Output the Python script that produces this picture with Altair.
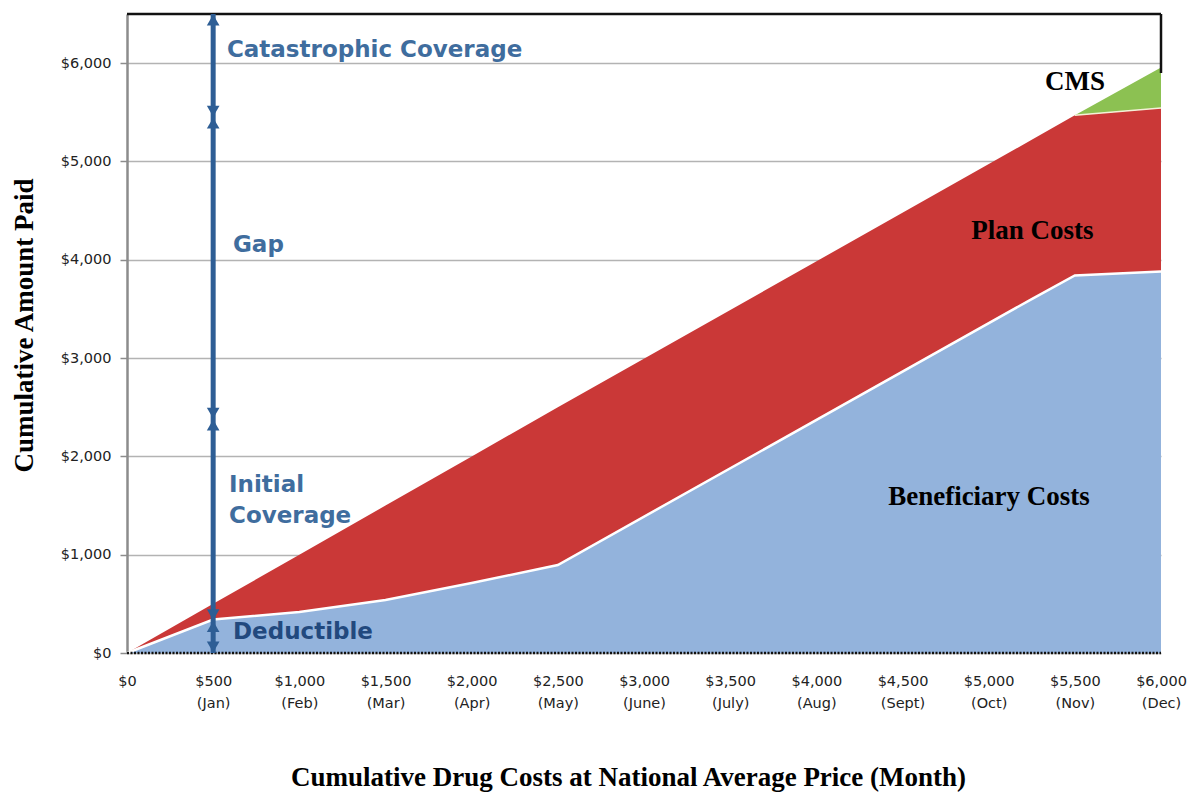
import altair as alt
import pandas as pd

# Cumulative drug spend (x) and the cumulative amount paid by each payer
drug_cost = [0, 500, 1000, 1500, 2000, 2500, 5250, 5500, 6000]
beneficiary_paid = [0, 340, 417, 539, 712, 895, 3600, 3840, 3880]
plan_paid = [0, 160, 583, 961, 1288, 1605, 1620, 1630, 1665]
cms_paid = [0, 0, 0, 0, 0, 0, 0, 0, 410]

series_names = ["Beneficiary Costs", "Plan Costs", "CMS"]
series_colors = ["#93B3DC", "#CA3837", "#8CC152"]

# x-axis ticks: cumulative cost with the month reached
tick_costs = [0, 500, 1000, 1500, 2000, 2500, 3000, 3500, 4000, 4500, 5000, 5500, 6000]
tick_cost_labels = ["$0", "$500", "$1,000", "$1,500", "$2,000", "$2,500", "$3,000",
                    "$3,500", "$4,000", "$4,500", "$5,000", "$5,500", "$6,000"]
tick_month_labels = ["", "(Jan)", "(Feb)", "(Mar)", "(Apr)", "(May)", "(June)",
                     "(July)", "(Aug)", "(Sept)", "(Oct)", "(Nov)", "(Dec)"]
y_ticks = [0, 1000, 2000, 3000, 4000, 5000, 6000]

# Coverage phases marked along the arrow at $500 of drug spend
arrow_cost = 500
phase_bounds = [0, 330, 2380, 5450, 6500]
phase_labels = ["Catastrophic Coverage", "Gap", "Initial", "Coverage", "Deductible"]
phase_label_x = [580, 615, 592, 592, 615]
phase_label_y = [6062, 4079, 1638, 1322, 142]
phase_label_colors = ["#3F6D9E", "#3F6D9E", "#3F6D9E", "#3F6D9E", "#22497E"]

# Payer labels inside the stacked areas
payer_labels = ["CMS", "Plan Costs", "Beneficiary Costs"]
payer_label_x = [5501, 5253, 5002]
payer_label_y = [5727, 4211, 1505]

X_MAX = 6000
Y_MAX = 6500

rows = []
for i, c in enumerate(drug_cost):
    for k, (name, vals) in enumerate(zip(series_names, [beneficiary_paid, plan_paid, cms_paid])):
        rows.append({"cost": c, "payer": name, "paid": vals[i], "order": k})
stack_df = pd.DataFrame(rows)

boundary_df = pd.DataFrame({"cost": drug_cost, "paid": beneficiary_paid})
red_top = [b + p for b, p in zip(beneficiary_paid, plan_paid)]
cms_edge_df = pd.DataFrame({"cost": drug_cost[-2:], "paid": red_top[-2:]})

x_scale = alt.Scale(domain=[0, X_MAX], nice=False, zero=True)
y_scale = alt.Scale(domain=[0, Y_MAX], nice=False)

label_pairs = ",".join(
    "['%s','%s']" % (a, b) for a, b in zip(tick_cost_labels, tick_month_labels)
)
x_label_expr = "[%s][round(datum.value / 500)]" % label_pairs

tick_font = "DejaVu Sans"

x_axis = alt.Axis(
    values=tick_costs,
    labelExpr=x_label_expr,
    labelFont=tick_font,
    labelFontSize=14.5,
    labelColor="#222222",
    labelLineHeight=22,
    labelBaseline="top",
    labelPadding=21,
    labelOverlap=False,
    labelFlush=False,
    labelBound=False,
    ticks=False,
    domain=False,
    grid=False,
    title="Cumulative Drug Costs at National Average Price (Month)",
    titleFont="Liberation Serif",
    titleFontSize=27,
    titleFontWeight="bold",
    titleColor="#000000",
    titleX=501,
    titleY=132,
    titleBaseline="alphabetic",
)

y_axis = alt.Axis(
    values=y_ticks,
    format="$,.0f",
    labelFont=tick_font,
    labelFontSize=14.5,
    labelColor="#222222",
    labelPadding=9,
    tickSize=7,
    tickColor="#8C8C8C",
    tickWidth=1.5,
    domainColor="#8C8C8C",
    domainWidth=2.5,
    grid=True,
    gridColor="#B3B3B3",
    gridWidth=1.6,
    title="Cumulative Amount Paid",
    titleFont="Liberation Serif",
    titleFontSize=27,
    titleFontWeight="bold",
    titleColor="#000000",
    titleAngle=-90,
    titleX=-103,
    titleY=311,
    titleAlign="center",
    titleBaseline="middle",
)


def xq(field="cost:Q"):
    return alt.X(field, scale=x_scale, axis=x_axis)


def yq(field="paid:Q", **kw):
    return alt.Y(field, scale=y_scale, axis=y_axis, **kw)


def xd(v):
    return alt.datum(v, scale=x_scale, axis=x_axis)


def yd(v):
    return alt.datum(v, scale=y_scale, axis=y_axis)


areas = alt.Chart(stack_df).mark_area(opacity=1, interpolate="linear").encode(
    x=xq(),
    y=yq(stack="zero"),
    color=alt.Color("payer:N", scale=alt.Scale(domain=series_names, range=series_colors), legend=None),
    order=alt.Order("order:Q", sort="ascending"),
)

boundary = alt.Chart(boundary_df).mark_line(color="white", strokeWidth=2.5).encode(x=xq(), y=yq())
cms_edge = alt.Chart(cms_edge_df).mark_line(color="#F4F1D8", strokeWidth=1.5).encode(x=xq(), y=yq())

frame_top = alt.Chart().mark_rule(color="#111111", strokeWidth=2.5).encode(
    x=xd(0), x2=alt.datum(X_MAX), y=yd(Y_MAX)
)
frame_right = alt.Chart().mark_rule(color="#111111", strokeWidth=2.5).encode(
    x=xd(X_MAX), y=yd(5900), y2=alt.datum(Y_MAX)
)
baseline = alt.Chart().mark_rule(color="#111111", strokeWidth=2.5, strokeDash=[2, 1.5]).encode(
    x=xd(0), x2=alt.datum(X_MAX), y=yd(0)
)

arrow_color = "#2E5E95"
arrow_shaft = alt.Chart().mark_rule(color=arrow_color, strokeWidth=5).encode(
    x=xd(arrow_cost), y=yd(phase_bounds[0]), y2=alt.datum(phase_bounds[-1]),
)

head_rows = []
offset = 60
for j, b in enumerate(phase_bounds):
    if j > 0:
        head_rows.append({"cost": arrow_cost, "paid": b - offset, "shape": "triangle-up"})
    if j < len(phase_bounds) - 1:
        head_rows.append({"cost": arrow_cost, "paid": b + offset, "shape": "triangle-down"})
heads_df = pd.DataFrame(head_rows)
arrow_heads = alt.Chart(heads_df).mark_point(filled=True, opacity=1, size=160, color=arrow_color).encode(
    x=xq(), y=yq(), shape=alt.Shape("shape:N", scale=None),
)

phase_df = pd.DataFrame({
    "label": phase_labels, "cost": phase_label_x, "paid": phase_label_y, "color": phase_label_colors,
})
phase_text = alt.Chart(phase_df).mark_text(
    align="left", baseline="alphabetic", font="DejaVu Sans", fontWeight="bold", fontSize=23,
).encode(
    x=xq(), y=yq(), text="label:N", color=alt.Color("color:N", scale=None),
)

payer_df = pd.DataFrame({"label": payer_labels, "cost": payer_label_x, "paid": payer_label_y})
payer_text = alt.Chart(payer_df).mark_text(
    align="center", baseline="alphabetic", font="Liberation Serif", fontWeight="bold",
    fontSize=27, color="#000000",
).encode(x=xq(), y=yq(), text="label:N")

chart = alt.layer(
    areas, frame_top, frame_right, boundary, cms_edge, baseline,
    arrow_shaft, arrow_heads, phase_text, payer_text,
).properties(
    width=1034,
    height=639,
    autosize=alt.AutoSizeParams(type="none"),
    padding={"left": 127, "top": 14, "right": 34, "bottom": 140},
    background="white",
).configure_view(stroke=None)

chart.save("out.html", embed_options={"renderer": "svg", "actions": False})
